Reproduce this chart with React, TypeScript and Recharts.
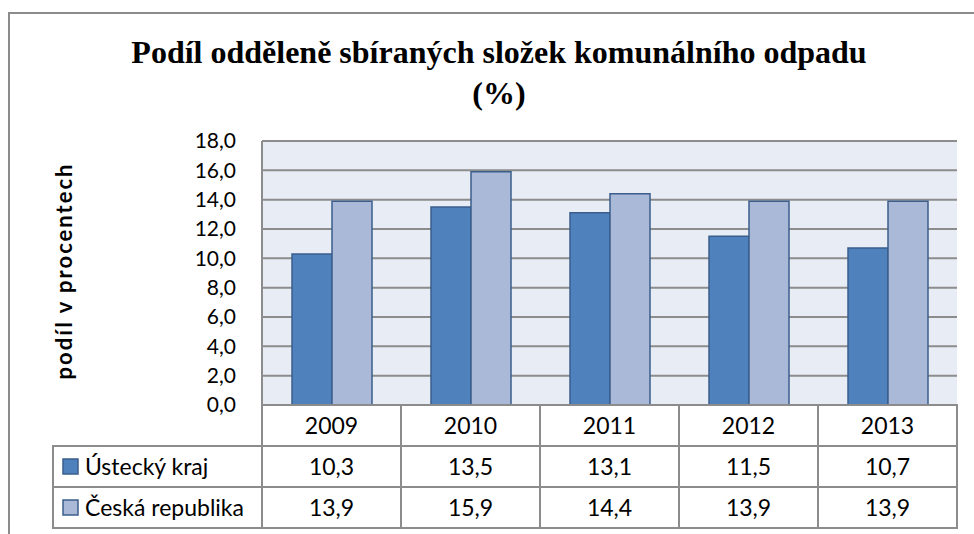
import React from "react";
import { BarChart, Bar, XAxis, YAxis, CartesianGrid } from "recharts";

const years = ["2009", "2010", "2011", "2012", "2013"];
const usteckyKraj = [10.3, 13.5, 13.1, 11.5, 10.7];
const ceskaRepublika = [13.9, 15.9, 14.4, 13.9, 13.9];
const yTicks = [0, 2, 4, 6, 8, 10, 12, 14, 16, 18];

const SERIES = [
  { key: "ustecky", name: "Ústecký kraj", values: usteckyKraj, fill: "#4F81BD" },
  { key: "cr", name: "Česká republika", values: ceskaRepublika, fill: "#AAB9D7" },
];

const data = years.map((year, i) => ({
  year,
  ustecky: usteckyKraj[i],
  cr: ceskaRepublika[i],
}));

const fmt = (v: number) => v.toFixed(1).replace(".", ",");

const LINE = "#8c8c8c";
const FONT = "Lato, Carlito, sans-serif";
const SERIF = "'Liberation Serif', 'Times New Roman', serif";
const ROW_H = 41;
const LEGEND_W = 209;
const TABLE_FS = 23;

function TableTick(props: any) {
  const { x, y, payload, index } = props;
  const half = payload && payload.offset ? payload.offset : 69.6;
  const w = half * 2;
  const left = x - half;
  const rows = SERIES.map((s, r) => {
    const top = y + ROW_H * (r + 1);
    return (
      <g key={s.key}>
        <rect x={left} y={top} width={w} height={ROW_H} fill="#fff" stroke={LINE} strokeWidth={2} />
        <text x={x} y={top + ROW_H / 2 + 8} textAnchor="middle" fontSize={TABLE_FS} fontFamily={FONT} fill="#000">
          {fmt(s.values[index])}
        </text>
        {index === 0 && (
          <g>
            <rect x={left - LEGEND_W} y={top} width={LEGEND_W} height={ROW_H} fill="#fff" stroke={LINE} strokeWidth={2} />
            <rect x={left - LEGEND_W + 10} y={top + 13} width={15} height={15} fill={s.fill} stroke="#3B5E8C" strokeWidth={1.5} />
            <text x={left - LEGEND_W + 32} y={top + ROW_H / 2 + 8} fontSize={TABLE_FS} fontFamily={FONT} fill="#000">
              {s.name}
            </text>
          </g>
        )}
      </g>
    );
  });
  return (
    <g>
      <rect x={left} y={y} width={w} height={ROW_H} fill="#fff" stroke={LINE} strokeWidth={2} />
      <text x={x} y={y + ROW_H / 2 + 8} textAnchor="middle" fontSize={TABLE_FS} fontFamily={FONT} fill="#000">
        {payload.value}
      </text>
      {rows}
    </g>
  );
}

function YLabel(props: any) {
  const vb = props.viewBox || { x: 0, y: 141, height: 264 };
  const cx = 63;
  const cy = vb.y + vb.height / 2 - 2;
  return (
    <text
      x={cx}
      y={cy}
      transform={`rotate(-90 ${cx} ${cy})`}
      textAnchor="middle"
      dominantBaseline="central"
      fontSize={22}
      letterSpacing={2}
      fontWeight="bold"
      fontFamily={FONT}
      fill="#000"
    >
      podíl v procentech
    </text>
  );
}

export default function App() {
  return (
    <div style={{ position: "absolute", left: 0, top: 0, width: 974, height: 534, background: "#fff", overflow: "hidden" }}>
      <div
        style={{
          position: "absolute",
          left: 8,
          top: 12,
          width: 980,
          height: 540,
          borderTop: `2px solid ${LINE}`,
          borderLeft: `2px solid ${LINE}`,
        }}
      />
      <svg width={974} height={120} style={{ position: "absolute", left: 0, top: 0 }}>
        <text x={499} y={63} textAnchor="middle" fontFamily={SERIF} fontWeight="bold" fontSize={32}>
          Podíl odděleně sbíraných složek komunálního odpadu
        </text>
        <text x={499} y={104} textAnchor="middle" fontFamily={SERIF} fontWeight="bold" fontSize={32}>
          (%)
        </text>
      </svg>
      <div style={{ position: "absolute", left: 0, top: 0 }}>
        <BarChart
          width={974}
          height={534}
          data={data}
          margin={{ top: 141, right: 17, bottom: 0, left: 202 }}
          barGap={0}
          barSize={40}
        >
          <CartesianGrid vertical={false} fill="#E8ECF4" stroke={LINE} strokeWidth={2} />
          <XAxis
            dataKey="year"
            height={129}
            axisLine={false}
            tickLine={false}
            tickSize={0}
            tickMargin={0}
            interval={0}
            tick={<TableTick />}
          />
          <YAxis
            width={60}
            domain={[0, 18]}
            ticks={yTicks}
            interval={0}
            tickFormatter={fmt}
            axisLine={{ stroke: LINE, strokeWidth: 2 }}
            tickLine={false}
            tickSize={0}
            tickMargin={26}
            tick={{ fontSize: 21, fontFamily: FONT, fill: "#000" }}
            label={<YLabel />}
          />
          {SERIES.map((s) => (
            <Bar
              key={s.key}
              dataKey={s.key}
              name={s.name}
              fill={s.fill}
              stroke="#3B5E8C"
              strokeWidth={1.5}
              isAnimationActive={false}
            />
          ))}
        </BarChart>
      </div>
    </div>
  );
}
